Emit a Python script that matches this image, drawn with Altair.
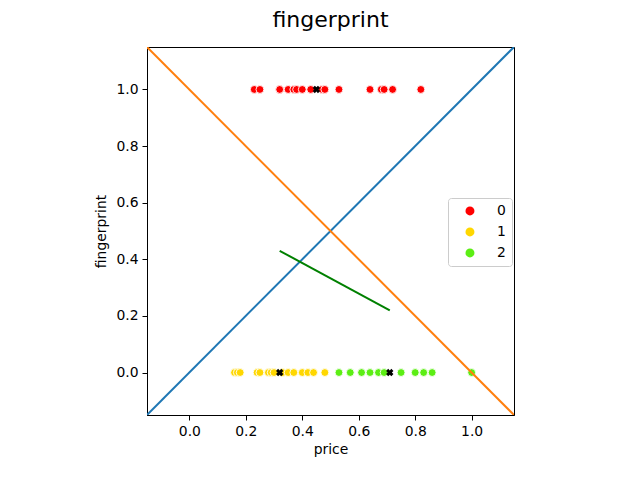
import pandas as pd
import altair as alt

# cluster members (price on x, fingerprint on y)
price_0 = [0.23, 0.25, 0.32, 0.32, 0.35, 0.37, 0.38, 0.40, 0.43, 0.47, 0.48,
           0.53, 0.64, 0.68, 0.69, 0.72, 0.82]
price_1 = [0.16, 0.17, 0.18, 0.24, 0.25, 0.28, 0.29, 0.30, 0.33, 0.35, 0.37,
           0.40, 0.42, 0.44, 0.48]
price_2 = [0.53, 0.57, 0.61, 0.64, 0.67, 0.69, 0.75, 0.80, 0.83, 0.86, 1.00]
fp_0 = 1.0
fp_1 = 0.0
fp_2 = 0.0

# cluster centres
centre_price = [0.45, 0.32, 0.71]
centre_fp = [1.0, 0.0, 0.0]

# line between centres 1 and 2
seg_price = [0.32, 0.71]
seg_fp = [0.43, 0.22]

# reference diagonals
diag_x = [-0.15, 1.15]
diag_up = [-0.15, 1.15]
diag_down = [1.15, -0.15]

clusters = ["0", "1", "2"]
colors = ["#ff0000", "#ffd700", "#5cee14"]

rows = []
for c, prices, fp in zip(clusters, [price_0, price_1, price_2], [fp_0, fp_1, fp_2]):
    for p in prices:
        rows.append({"price": p, "fingerprint": fp, "cluster": c})
pts = pd.DataFrame(rows)

centres = pd.DataFrame({"price": centre_price, "fingerprint": centre_fp})
seg = pd.DataFrame({"price": seg_price, "fingerprint": seg_fp})
diag = pd.DataFrame({
    "price": diag_x + diag_x,
    "fingerprint": diag_up + diag_down,
    "line": ["up", "up", "down", "down"]})

xs = alt.Scale(domain=[-0.15, 1.15], nice=False, zero=False)
ys = alt.Scale(domain=[-0.15, 1.15], nice=False, zero=False)
ticks = [0.0, 0.2, 0.4, 0.6, 0.8, 1.0]

x_enc = alt.X("price:Q", scale=xs, title="price",
              axis=alt.Axis(values=ticks, format=".1f"))
y_enc = alt.Y("fingerprint:Q", scale=ys, title="fingerprint",
              axis=alt.Axis(values=ticks, format=".1f"))

scatter = alt.Chart(pts).mark_circle(
    size=62, opacity=1, stroke="white", strokeWidth=0.9).encode(
    x=x_enc,
    y=y_enc,
    color=alt.Color(
        "cluster:N",
        scale=alt.Scale(domain=clusters, range=colors),
        legend=alt.Legend(
            title=None, orient="none", legendX=301, legendY=151,
            symbolType="circle", symbolSize=80, symbolStrokeWidth=0,
            symbolOpacity=1,
            labelFontSize=13.9, labelOffset=20, symbolOffset=9,
            rowPadding=6, padding=6,
            strokeColor="#cccccc", fillColor="white", cornerRadius=3)))

diagonals = alt.Chart(diag).mark_line(strokeWidth=2, clip=True).encode(
    x=alt.X("price:Q", scale=xs),
    y=alt.Y("fingerprint:Q", scale=ys),
    detail="line:N",
    color=alt.Color("line:N", scale=alt.Scale(
        domain=["up", "down"], range=["#1f77b4", "#ff7f0e"]), legend=None))

segment = alt.Chart(seg).mark_line(strokeWidth=2, color="green").encode(
    x=alt.X("price:Q", scale=xs),
    y=alt.Y("fingerprint:Q", scale=ys))

marks = alt.Chart(centres).mark_point(
    shape="cross", angle=45, filled=True, color="black", size=55, opacity=1).encode(
    x=alt.X("price:Q", scale=xs),
    y=alt.Y("fingerprint:Q", scale=ys))

# chart title drawn as a text mark above the plot area
title = alt.Chart(pd.DataFrame({"t": ["fingerprint"]})).mark_text(
    font="DejaVu Sans", fontSize=22, color="black", align="center",
    baseline="alphabetic").encode(
    text="t:N",
    x=alt.value(183.5),
    y=alt.value(-20))

chart = alt.layer(scatter, diagonals, segment, marks, title).resolve_scale(
    color="independent").properties(
    width=367,
    height=368,
    autosize=alt.AutoSizeParams(type="none"),
    padding={"left": 139, "top": 39, "right": 10, "bottom": 60})

chart = chart.configure_axis(
    labelFont="DejaVu Sans",
    titleFont="DejaVu Sans",
    labelFontSize=13.9,
    titleFontSize=13.9,
    titleFontWeight="normal",
    labelColor="black",
    titleColor="black",
    domainColor="black",
    tickColor="black",
    tickSize=5,
    labelPadding=4,
    grid=False).configure_axisX(
    titlePadding=5).configure_axisY(
    titlePadding=7).configure_legend(
    labelFont="DejaVu Sans",
    labelColor="black").configure_view(
    stroke="black",
    strokeWidth=1)

chart.save("out.html", embed_options={"renderer": "svg", "actions": False})
